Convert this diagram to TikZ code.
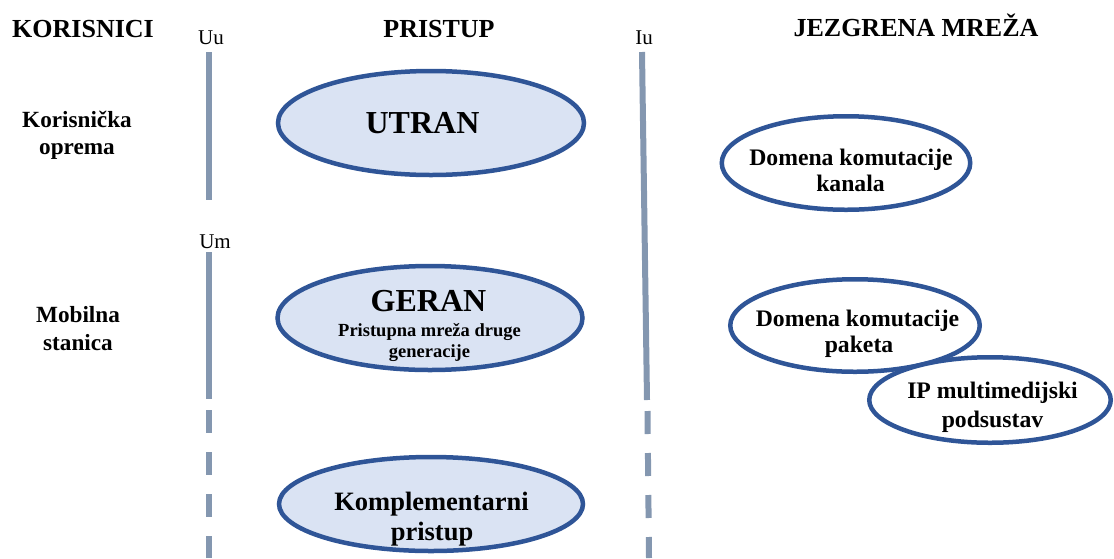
\documentclass[tikz,border=0pt]{standalone}
\usepackage{fontspec}
\setmainfont{Liberation Serif}
\usetikzlibrary{shapes.geometric}
\definecolor{linegray}{HTML}{8497B0}
\definecolor{ovalborder}{HTML}{2F5597}
\definecolor{ovalfill}{HTML}{DAE3F3}
\tikzset{
  iface/.style={draw=linegray, line width=6pt, line cap=butt},
  ifacedash/.style={iface, dash pattern=on 23pt off 19pt},
  oval/.style={ellipse, draw=ovalborder, line width=4.5pt, inner sep=0pt},
  accessoval/.style={oval, fill=ovalfill},
  coreoval/.style={oval, fill=white},
  heading/.style={font=\bfseries\fontsize{26}{28}\selectfont, anchor=base, inner sep=0pt},
  ifname/.style={font=\fontsize{21}{23}\selectfont, anchor=base, inner sep=0pt},
  sidelbl/.style={font=\bfseries\fontsize{23.2}{25}\selectfont, anchor=base, inner sep=0pt},
  bigtxt/.style={font=\bfseries\fontsize{32}{34}\selectfont, anchor=base, inner sep=0pt},
  smalltxt/.style={font=\bfseries\fontsize{18.5}{20}\selectfont, anchor=base, inner sep=0pt},
  midtxt/.style={font=\bfseries\fontsize{26.5}{28}\selectfont, anchor=base, inner sep=0pt},
  coretxt/.style={font=\bfseries\fontsize{23.7}{25}\selectfont, anchor=base, inner sep=0pt},
}
\begin{document}
\begin{tikzpicture}[x=1pt,y=-1pt]
\useasboundingbox (0,0) rectangle (1114,558);

% headings
\node[heading] (hkor) at (83,37) {KORISNICI};
\node[heading] (hpri) at (439,37) {PRISTUP};
\node[heading] (hjez) at (916,36) {JEZGRENA MREŽA};

% interface names
\node[ifname] (uu) at (211,44) {Uu};
\node[ifname] (um) at (215,248) {Um};
\node[ifname] (iu) at (644,44) {Iu};

% side labels
\node[sidelbl] (ko1) at (77,127) {Korisnička};
\node[sidelbl] (ko2) at (77,154) {oprema};
\node[sidelbl] (ms1) at (78,322) {Mobilna};
\node[sidelbl] (ms2) at (78,350) {stanica};

% interface lines
\coordinate (uuTop) at (209,52);
\coordinate (uuBot) at (209,200);
\coordinate (umTop) at (209,252);
\coordinate (umMid) at (209,399);
\coordinate (umDashTop) at (209,410);
\coordinate (umBot) at (209,558);
\coordinate (iuTop) at (642,52);
\coordinate (iuMid) at (647,400);
\coordinate (iuDashTop) at (647.5,411);
\coordinate (iuBot) at (649,558);
\draw[iface] (uuTop) -- (uuBot);
\draw[iface] (umTop) -- (umMid);
\draw[ifacedash] (umDashTop) -- (umBot);
\draw[iface] (iuTop) -- (iuMid);
\draw[ifacedash] (iuDashTop) -- (iuBot);

% access ellipses
\node[accessoval, minimum width=306pt, minimum height=104pt] (utran) at (431,123) {};
\node[bigtxt] (utranT) at (422.5,133) {UTRAN};

\node[accessoval, minimum width=305pt, minimum height=104pt] (geran) at (430,318) {};
\node[bigtxt] (geranT) at (428.5,311) {GERAN};
\node[smalltxt] (geranS1) at (429.5,336) {Pristupna mreža druge};
\node[smalltxt] (geranS2) at (429.5,357) {generacije};

\node[accessoval, minimum width=304pt, minimum height=94pt] (kompl) at (431,504) {};
\node[midtxt] (komplT1) at (431.5,510) {Komplementarni};
\node[midtxt] (komplT2) at (432,540) {pristup};

% core network ellipses
\node[coreoval, minimum width=248.5pt, minimum height=93.5pt] (kanala) at (846,163) {};
\node[coretxt] (kanalaT1) at (851,165) {Domena komutacije};
\node[coretxt] (kanalaT2) at (850.5,191) {kanala};

\node[coreoval, minimum width=249.5pt, minimum height=92.5pt] (paketa) at (855,325.5) {};
\node[coretxt] (paketaT1) at (857.5,326) {Domena komutacije};
\node[coretxt] (paketaT2) at (859,352) {paketa};

\node[coreoval, minimum width=241.5pt, minimum height=85.5pt] (ims) at (990,400) {};
\node[coretxt] (imsT1) at (992.5,398) {IP multimedijski};
\node[coretxt] (imsT2) at (992.5,427) {podsustav};
\end{tikzpicture}
\end{document}
